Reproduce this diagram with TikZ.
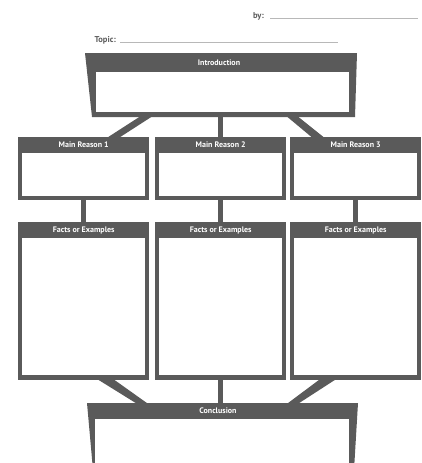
\documentclass[tikz,border=0pt]{standalone}
\usepackage{fontspec}
\setsansfont{PT Sans}
\usepackage{xcolor}
\usetikzlibrary{positioning, calc}
\definecolor{boxgray}{HTML}{5A5A5A}
\definecolor{rulegray}{HTML}{B8B8B8}
\tikzset{
  frame/.style={fill=boxgray, inner sep=0pt, minimum width=131pt},
  pane/.style={fill=white, inner sep=0pt},
  head/.style={text=white, inner sep=0pt, font=\sffamily\bfseries\fontsize{8}{9}\selectfont},
  tag/.style={text=boxgray, inner sep=0pt, font=\sffamily\bfseries\fontsize{8.5}{9}\selectfont},
  link/.style={draw=boxgray, line width=4.5pt},
}
\begin{document}
\begin{tikzpicture}[x=1pt, y=-1pt]
  \useasboundingbox (0,0) rectangle (421,463);
  \clip (0,0) rectangle (421,463);
  % name and topic lines
  \node[tag, anchor=base east] (by) at (264,18) {by:};
  \coordinate (byend) at (418,18);
  \draw[rulegray, line width=0.6pt] ($(by.base east)+(6,0)$) -- (byend);
  \node[tag, anchor=base east] (topic) at (116,42) {Topic:};
  \coordinate (topicend) at (338,42);
  \draw[rulegray, line width=0.6pt] ($(topic.base east)+(4,0)$) -- (topicend);
  % introduction
  \fill[boxgray] (85,53) -- (357,53) -- (355,117) -- (92,117) -- cycle;
  \node[pane, minimum width=253pt, minimum height=40pt] (intro) at (222.5,92) {};
  % main reasons
  \node[frame, minimum height=63pt, anchor=north west] (reason1) at (18,137) {};
  \node[frame, minimum height=63pt, anchor=north west] (reason2) at (155,137) {};
  \node[frame, minimum height=63pt, anchor=north west] (reason3) at (290,137) {};
  \node[pane, minimum width=123pt, minimum height=43pt, anchor=north] at ([yshift=-16pt]reason1.north) {};
  \node[pane, minimum width=123pt, minimum height=43pt, anchor=north] at ([yshift=-16pt]reason2.north) {};
  \node[pane, minimum width=123pt, minimum height=43pt, anchor=north] at ([yshift=-16pt]reason3.north) {};
  % facts
  \node[frame, minimum height=158pt, anchor=north west] (facts1) at (18,222) {};
  \node[frame, minimum height=158pt, anchor=north west] (facts2) at (155,222) {};
  \node[frame, minimum height=158pt, anchor=north west] (facts3) at (290,222) {};
  \node[pane, minimum width=123pt, minimum height=137pt, anchor=north] at ([yshift=-16pt]facts1.north) {};
  \node[pane, minimum width=123pt, minimum height=137pt, anchor=north] at ([yshift=-16pt]facts2.north) {};
  \node[pane, minimum width=123pt, minimum height=137pt, anchor=north] at ([yshift=-16pt]facts3.north) {};
  % conclusion
  \fill[boxgray] (87,403) -- (358,403) -- (354,470) -- (93,470) -- cycle;
  \node[pane, minimum width=254pt, minimum height=51pt] (concl) at (222,444.5) {};
  % links
  \fill[boxgray] ($(intro.south)+(-82,4)$) -- ($(intro.south)+(-70,4)$)
    -- ($(reason1.north)+(35,1)$) -- ($(reason1.north)+(23,1)$) -- cycle;
  \draw[link] (reason2.north) -- (reason2.north |- intro.south);
  \fill[boxgray] ($(intro.south)+(64,4)$) -- ($(intro.south)+(75,4)$)
    -- ($(reason3.north)+(-31,1)$) -- ($(reason3.north)+(-43,1)$) -- cycle;
  \draw[link] (reason1.south) -- (facts1.north);
  \draw[link] (reason2.south) -- (facts2.north);
  \draw[link] (reason3.south) -- (facts3.north);
  \fill[boxgray] ($(facts1.south)+(14,-1)$) -- ($(facts1.south)+(30,-1)$)
    -- ($(concl.north)+(-74,-15)$) -- ($(concl.north)+(-85,-15)$) -- cycle;
  \draw[link] (facts2.south) -- ($(facts2.south |- concl.north)+(0,-15)$);
  \fill[boxgray] ($(facts3.south)+(-36,-1)$) -- ($(facts3.south)+(-20,-1)$)
    -- ($(concl.north)+(76,-15)$) -- ($(concl.north)+(65,-15)$) -- cycle;
  % headings
  \node[head] at (219,62.5) {Introduction};
  \node[head] at ([yshift=-8pt]reason1.north) {Main Reason 1};
  \node[head] at ([yshift=-8pt]reason2.north) {Main Reason 2};
  \node[head] at ([yshift=-8pt]reason3.north) {Main Reason 3};
  \node[head] at ([yshift=-8pt]facts1.north) {Facts or Examples};
  \node[head] at ([yshift=-8pt]facts2.north) {Facts or Examples};
  \node[head] at ([yshift=-8pt]facts3.north) {Facts or Examples};
  \node[head] at (218,411) {Conclusion};
\end{tikzpicture}
\end{document}
